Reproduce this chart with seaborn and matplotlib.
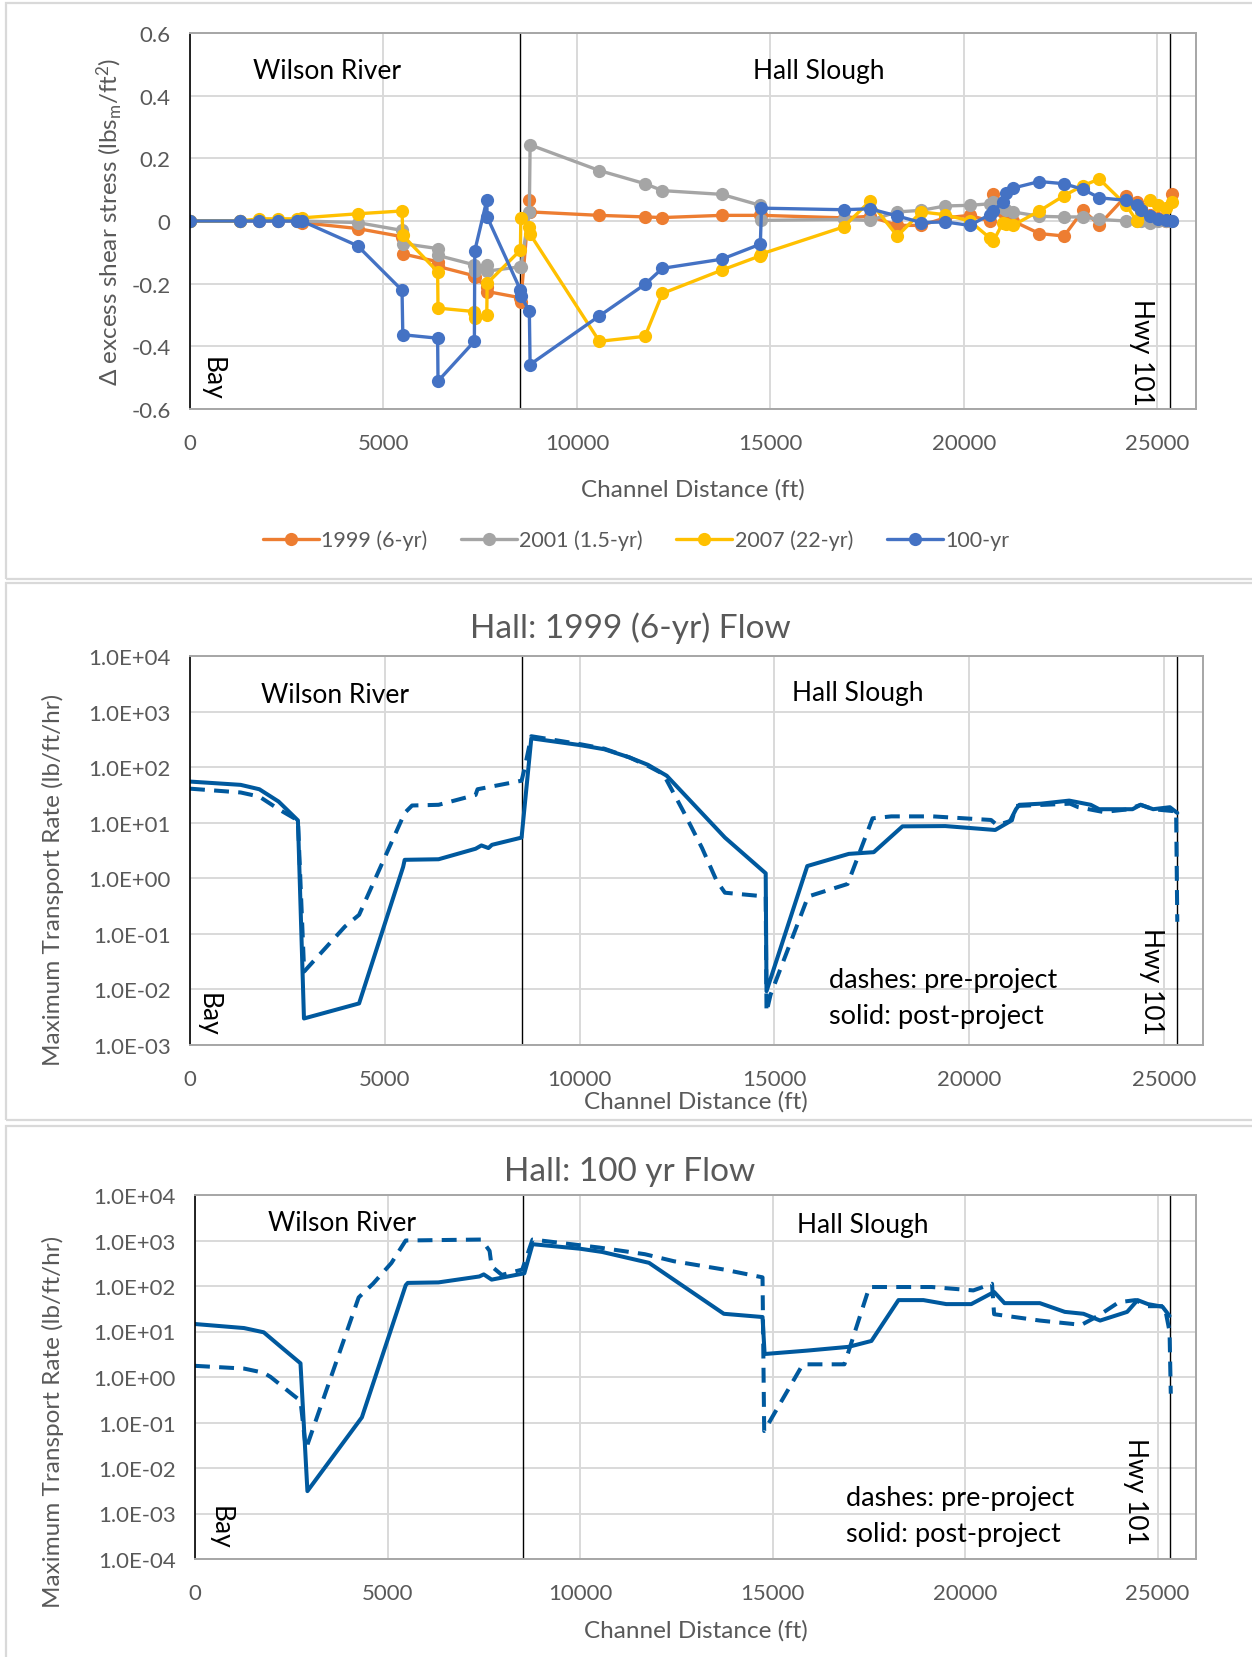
import numpy as np
import pandas as pd
import matplotlib
matplotlib.use('Agg')
import matplotlib.pyplot as plt
import seaborn as sns
from matplotlib.patches import Rectangle
from matplotlib.lines import Line2D
from matplotlib.ticker import FixedLocator, FuncFormatter, NullLocator

# ---------------- data ----------------
# Panel 1: change in excess shear stress at channel stations
stations = [0, 1290, 1785, 2270, 2755, 2890, 4330, 5480, 5500, 6400, 6410, 7350, 7360,
            7670, 7680, 8540, 8550, 8770, 8790, 10580, 11760, 12210, 13740, 14740, 14770,
            16890, 17570, 18280, 18900, 19520, 20150, 20670, 20760, 21010, 21090, 21270,
            21950, 22590, 23080, 23500, 24200, 24470, 24580, 24800, 25010, 25230, 25390]
ds_1999 = [0, 0, 0, 0, 0, -0.005, -0.024, -0.05, -0.105, -0.13, -0.145, -0.175, -0.18,
           -0.21, -0.225, -0.245, -0.257, 0.066, 0.029, 0.018, 0.013, 0.011, 0.018, 0.018, 0.018,
           0.01, 0.015, -0.014, -0.014, 0.01, 0.018, 0.0, 0.087, 0.03, 0.01, 0.0,
           -0.04, -0.048, 0.034, -0.012, 0.081, 0.06, 0.04, 0.02, 0.01, 0.0, 0.087]
ds_2001 = [0, 0, 0, 0, 0, 0, -0.005, -0.03, -0.072, -0.088, -0.11, -0.14, -0.16,
           -0.141, -0.16, -0.146, -0.146, 0.03, 0.243, 0.161, 0.119, 0.097, 0.085, 0.05, 0.002,
           0.005, 0.002, 0.029, 0.034, 0.048, 0.05, 0.055, 0.06, 0.04, 0.035, 0.029,
           0.015, 0.013, 0.013, 0.005, 0.0, 0.0, 0.0, -0.005, 0.0, 0.0, 0.0]
ds_2007 = [0, 0, 0.007, 0.007, 0.007, 0.01, 0.023, 0.032, -0.046, -0.162, -0.278, -0.289, -0.31,
           -0.299, -0.199, -0.093, 0.011, -0.019, -0.042, -0.384, -0.368, -0.231, -0.157, -0.111, -0.105,
           -0.019, 0.063, -0.048, 0.029, 0.02, 0.0, -0.054, -0.065, -0.005, -0.01, -0.014,
           0.032, 0.081, 0.113, 0.134, 0.05, 0.0, 0.03, 0.066, 0.05, 0.04, 0.062]
ds_100 = [0, 0, 0, 0, 0, 0, -0.079, -0.221, -0.363, -0.374, -0.511, -0.384, -0.095,
          0.066, 0.013, -0.22, -0.24, -0.286, -0.458, -0.303, -0.202, -0.151, -0.122, -0.074, 0.041,
          0.036, 0.039, 0.016, -0.005, -0.003, -0.014, 0.02, 0.032, 0.062, 0.09, 0.105,
          0.126, 0.119, 0.101, 0.074, 0.066, 0.052, 0.034, 0.016, 0.007, 0.002, 0.0]
series_names = ['1999 (6-yr)', '2001 (1.5-yr)', '2007 (22-yr)', '100-yr']

# Panel 2: Hall 1999 (6-yr) flow, max transport rate
p2_post_x = [0, 1300, 1780, 2275, 2770, 2925, 4340, 5470, 5510, 6380, 7330, 7480, 7660, 7750, 8510,
             8760, 10000, 10630, 11275, 11756, 12236, 13730, 14776, 14797, 15843, 16910, 17550,
             18287, 19386, 20667, 21040, 21200, 21286, 21840, 22566, 23120, 23335, 24190, 24400,
             24720, 25150, 25340]
p2_post_y = [55, 48, 40, 24, 11, 0.003, 0.0056, 1.6, 2.15, 2.2, 3.4, 3.9, 3.5, 4.0, 5.4,
             330, 250, 210, 150, 110, 70, 5.4, 1.23, 0.0093, 1.66, 2.75, 2.95,
             8.6, 8.7, 7.4, 10.5, 17.5, 21, 22, 25, 21, 17.5, 17.5, 21,
             17.5, 19, 15]
p2_pre_x = [0, 1300, 1780, 2275, 2770, 2930, 3975, 4340, 5510, 5700, 6380, 7330, 7380, 8510, 8580,
            8760, 10000, 10630, 11275, 11756, 12150, 12663, 13143, 13517, 13730, 14776, 14797, 14900,
            15864, 16878, 17519, 18000, 19066, 20560, 20720, 21094, 21200, 22588, 22800, 23441,
            24080, 24400, 24720, 25310, 25340]
p2_pre_y = [41, 35, 29.5, 17.5, 11, 0.021, 0.135, 0.22, 15, 20.4, 21, 31.6, 40, 57, 90,
            360, 260, 215, 150, 105, 75, 16, 3.5, 0.9, 0.55, 0.47, 0.0039, 0.008,
            0.47, 0.79, 12, 13, 13, 11.2, 9, 11, 20, 22, 19, 15.6,
            17.4, 21, 17.5, 16, 0.165]

# Panel 3: Hall 100 yr flow, max transport rate
p3_post_x = [0, 1275, 1785, 2230, 2740, 2920, 4335, 5473, 5526, 6323, 7386, 7500, 7705, 8554,
             8767, 10000, 10574, 11793, 13736, 14741, 14795, 15896, 16976, 17570, 18272, 18920,
             19514, 20162, 20756, 21026, 21944, 22592, 23078, 23510, 24212, 24482, 24752, 25130, 25313]
p3_post_y = [14.6, 11.9, 9.6, 4.6, 2.0, 0.0031, 0.13, 104, 117, 120, 162, 180, 138, 190,
             830, 660, 560, 323, 24.5, 20.8, 3.2, 3.8, 4.6, 6.2, 49, 49,
             40, 40, 74, 42, 42, 27, 24.5, 17.4, 27, 49, 40, 35, 22]
p3_pre_x = [0, 1275, 1785, 1966, 2550, 2740, 2880, 4251, 4623, 5101, 5473, 7440, 7652, 7705,
            7970, 8500, 8767, 10497, 11685, 12440, 13736, 14741, 14784, 15032, 15788, 16868,
            17516, 19136, 20216, 20702, 20756, 21944, 23023, 23455, 23995, 24428, 24752, 25184,
            25313, 25345]
p3_pre_y = [1.76, 1.53, 1.24, 1.0, 0.4, 0.3, 0.026, 56, 112, 320, 1000, 1050, 590, 270,
            175, 230, 1050, 700, 500, 350, 230, 155, 0.065, 0.15, 1.9, 1.9,
            95, 95, 80, 112, 24, 17.4, 14, 22, 44, 49, 36, 36,
            10, 0.43]

x_ticks = [0, 5000, 10000, 15000, 20000, 25000]

# ---------------- style ----------------
sns.set_theme(style='white')
plt.rcParams['font.family'] = ['Lato', 'DejaVu Sans']
plt.rcParams['axes.unicode_minus'] = False
plt.rcParams['mathtext.fontset'] = 'custom'
plt.rcParams['mathtext.rm'] = 'Lato'
plt.rcParams['mathtext.it'] = 'Lato:italic'

W, H = 1252, 1658
fig = plt.figure(figsize=(W / 100, H / 100), dpi=100)
fig.patch.set_facecolor('white')

GRAY_TXT = '#595959'
GRID = '#D9D9D9'
BORDER = '#A6A6A6'
BLUE_LINE = '#00599E'
palette = {'1999 (6-yr)': '#ED7D31', '2001 (1.5-yr)': '#A5A5A5',
           '2007 (22-yr)': '#FFC000', '100-yr': '#4472C4'}

TICK_FS = 16
AXLAB_FS = 17.5
REGION_FS = 19
SIDE_FS = 19


def ax_rect(left, top, right, bottom):
    return [left / W, 1 - bottom / H, (right - left) / W, (bottom - top) / H]


def style_axes(ax):
    ax.set_xlim(0, 26000)
    ax.xaxis.set_major_locator(FixedLocator(x_ticks))
    ax.xaxis.set_major_formatter(FuncFormatter(lambda v, p: f'{int(v)}'))
    ax.grid(True, which='major', color=GRID, linewidth=1.4)
    ax.set_axisbelow(True)
    for s in ['top', 'right', 'bottom']:
        ax.spines[s].set_color(BORDER)
        ax.spines[s].set_linewidth(1.4)
    ax.spines['left'].set_color('black')
    ax.spines['left'].set_linewidth(1.2)
    ax.tick_params(axis='both', length=0, labelsize=TICK_FS, labelcolor=GRAY_TXT)
    ax.tick_params(axis='x', pad=17)
    ax.tick_params(axis='y', pad=14)
    ax.set_xlabel('')
    ax.set_ylabel('')
    ax.axvline(8530, color='black', linewidth=1.0, zorder=1.5)
    ax.axvline(25330, color='black', linewidth=1.0, zorder=1.5)


# panel boxes
for (y0, y1) in [(4, 580), (584, 1121), (1127, 1662)]:
    fig.add_artist(Rectangle((6 / W, 1 - y1 / H), (W + 10) / W, (y1 - y0) / H,
                             transform=fig.transFigure, fill=False,
                             edgecolor=GRID, linewidth=1.6))

# ---------------- panel 1 ----------------
ax1 = fig.add_axes(ax_rect(190, 34, 1196, 410))
df1 = pd.concat([pd.DataFrame({'dist': stations, 'value': v, 'series': n})
                 for n, v in zip(series_names, [ds_1999, ds_2001, ds_2007, ds_100])],
                ignore_index=True)
sns.lineplot(data=df1, x='dist', y='value', hue='series', hue_order=series_names,
             palette=palette, marker='o', markersize=9.5, markeredgewidth=0,
             linewidth=2.4, sort=False, estimator=None, legend=False, ax=ax1)
style_axes(ax1)
ax1.set_ylim(-0.6, 0.6)
ax1.yaxis.set_major_locator(FixedLocator([-0.6, -0.4, -0.2, 0, 0.2, 0.4, 0.6]))
ax1.yaxis.set_major_formatter(FuncFormatter(lambda v, p: ('%g' % (round(v, 1) + 0.0))))
ax1.text(3550, 0.48, 'Wilson River', ha='center', va='center', fontsize=REGION_FS, color='black')
ax1.text(16260, 0.48, 'Hall Slough', ha='center', va='center', fontsize=REGION_FS, color='black')
ax1.text(560, -0.5, 'Bay', rotation=-90, ha='center', va='center', fontsize=SIDE_FS, color='black')
ax1.text(24600, -0.415, 'Hwy 101', rotation=-90, ha='center', va='center', fontsize=SIDE_FS,
         color='black')
fig.text(109 / W, 1 - 222 / H, r'$\Delta$ excess shear stress (lbs$_{\mathrm{m}}$/ft$^{\mathrm{2}}$)',
         rotation=90, ha='center', va='center', fontsize=AXLAB_FS, color=GRAY_TXT)
fig.text(693 / W, 1 - 490 / H, 'Channel Distance (ft)', ha='center', va='center',
         fontsize=AXLAB_FS, color=GRAY_TXT)
handles = [Line2D([0], [0], color=palette[n], marker='o', markersize=9.5, markeredgewidth=0,
                  linewidth=2.4) for n in series_names]
fig.legend(handles, series_names, loc='center', bbox_to_anchor=(636 / W, 1 - 541 / H),
           ncol=4, frameon=False, fontsize=15.5, labelcolor=GRAY_TXT, handlelength=2.6,
           columnspacing=1.55, handletextpad=0.12)


# ---------------- panels 2 & 3 ----------------
def rate_panel(rect, post_x, post_y, pre_x, pre_y, ymin, title, title_y, ylab_y, xlab_y,
               labels):
    ax = fig.add_axes(rect)
    df = pd.concat([
        pd.DataFrame({'dist': pre_x, 'rate': pre_y, 'case': 'pre-project'}),
        pd.DataFrame({'dist': post_x, 'rate': post_y, 'case': 'post-project'})],
        ignore_index=True)
    sns.lineplot(data=df, x='dist', y='rate', style='case',
                 style_order=['post-project', 'pre-project'],
                 dashes={'post-project': '', 'pre-project': (3.7, 2.3)},
                 color=BLUE_LINE, linewidth=2.9, sort=False, estimator=None,
                 legend=False, ax=ax)
    ax.set_yscale('log')
    style_axes(ax)
    ax.set_ylim(ymin, 1e4)
    exps = range(int(round(np.log10(ymin))), 5)
    ax.yaxis.set_major_locator(FixedLocator([10.0 ** e for e in exps]))
    ax.yaxis.set_minor_locator(NullLocator())
    ax.yaxis.set_major_formatter(FuncFormatter(lambda v, p: f'{v:.1E}'))
    fig.text(630 / W, 1 - title_y / H, title, ha='center', va='center', fontsize=24,
             color=GRAY_TXT)
    fig.text(53 / W, 1 - ylab_y / H, 'Maximum Transport Rate (lb/ft/hr)', rotation=90,
             ha='center', va='center', fontsize=AXLAB_FS, color=GRAY_TXT)
    fig.text(696 / W, 1 - xlab_y / H, 'Channel Distance (ft)', ha='center', va='center',
             fontsize=AXLAB_FS, color=GRAY_TXT)
    (wx, wy), (hx, hy), (bx, by), (hwx, hwy), (dx, dy1, dy2) = labels
    ax.text(wx, wy, 'Wilson River', ha='center', va='center', fontsize=REGION_FS, color='black')
    ax.text(hx, hy, 'Hall Slough', ha='center', va='center', fontsize=REGION_FS, color='black')
    ax.text(bx, by, 'Bay', rotation=-90, ha='center', va='center', fontsize=SIDE_FS,
            color='black')
    ax.text(hwx, hwy, 'Hwy 101', rotation=-90, ha='center', va='center', fontsize=SIDE_FS,
            color='black')
    ax.text(dx, dy1, 'dashes: pre-project', ha='left', va='center', fontsize=19.5,
            color='black')
    ax.text(dx, dy2, 'solid: post-project', ha='left', va='center', fontsize=19.5,
            color='black')
    return ax


rate_panel(ax_rect(190, 657, 1203, 1046), p2_post_x, p2_post_y, p2_pre_x, p2_pre_y, 1e-3,
           'Hall: 1999 (6-yr) Flow', 628, 880, 1102,
           [(3720, 10 ** 3.30), (17150, 10 ** 3.35), (470, 10 ** -2.44), (24670, 10 ** -1.84),
            (16390, 10 ** -1.83, 10 ** -2.47)])
rate_panel(ax_rect(195, 1196, 1196, 1560), p3_post_x, p3_post_y, p3_pre_x, p3_pre_y, 1e-4,
           'Hall: 100 yr Flow', 1172, 1422, 1631,
           [(3830, 10 ** 3.40), (17340, 10 ** 3.35), (660, 10 ** -3.30), (24430, 10 ** -2.49),
            (16900, 10 ** -2.65, 10 ** -3.44)])

fig.savefig('out.png', dpi=100, facecolor='white')
